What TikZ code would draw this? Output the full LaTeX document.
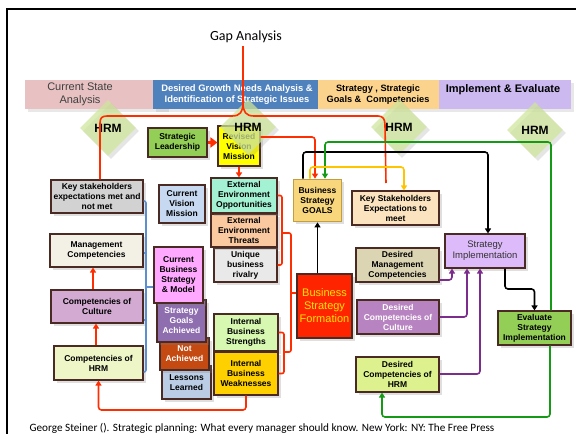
\documentclass[tikz,border=0pt]{standalone}
\usepackage{fontspec}
\setmainfont{Liberation Sans}
\newfontfamily\calibri{Carlito}
\usetikzlibrary{shapes.geometric,arrows.meta,shadows}

\definecolor{boxline}{HTML}{4A2A22}
\definecolor{pinkban}{HTML}{E8C2C2}
\definecolor{blueban}{HTML}{4F81BD}
\definecolor{orangeban}{HTML}{FCD38C}
\definecolor{purpleban}{HTML}{CBB9F0}
\definecolor{hrmgreen}{HTML}{CFE69A}
\definecolor{redln}{HTML}{FF2E00}
\definecolor{greenln}{HTML}{149A14}
\definecolor{yellowln}{HTML}{FFC400}
\definecolor{purpleln}{HTML}{7B2C8C}
\definecolor{blueln}{HTML}{5C8FD0}
\definecolor{cgray}{HTML}{D2D2D2}
\definecolor{cwhite}{HTML}{F3F1E6}
\definecolor{cmauve}{HTML}{D3AAD2}
\definecolor{clime}{HTML}{EEF6C8}
\definecolor{cgreen}{HTML}{93CF57}
\definecolor{cyellow}{HTML}{FFFF00}
\definecolor{cblue}{HTML}{C6D9F0}
\definecolor{cpink}{HTML}{FFA8FF}
\definecolor{cviolet}{HTML}{8F6EB0}
\definecolor{crust}{HTML}{C44A12}
\definecolor{clblue}{HTML}{BACDE4}
\definecolor{cmint}{HTML}{A4F2D4}
\definecolor{cpeach}{HTML}{FAC9A0}
\definecolor{clgray}{HTML}{E9E9E9}
\definecolor{clgreen}{HTML}{D6F8B0}
\definecolor{cgold}{HTML}{FFD000}
\definecolor{cred}{HTML}{FF2400}
\definecolor{ctxtyellow}{HTML}{FFE600}
\definecolor{cgoals}{HTML}{F8D67C}
\definecolor{cgoalsline}{HTML}{C49E3E}
\definecolor{ctan}{HTML}{FAE3BE}
\definecolor{ckhaki}{HTML}{DCD5B4}
\definecolor{cdviolet}{HTML}{B783C0}
\definecolor{cyg}{HTML}{DDF28E}
\definecolor{clav}{HTML}{DDBAFA}

\pgfdeclarelayer{behind}
\pgfsetlayers{behind,main}

\begin{document}
\begin{tikzpicture}[x=1pt,y=-1pt,
  bx/.style={draw=boxline, line width=1.1pt, align=center, inner sep=0pt,
    font=\bfseries\fontsize{8.5}{10}\selectfont,
    drop shadow={shadow xshift=2.5pt,shadow yshift=-2.5pt,opacity=0.25}},
  banner/.style={inner sep=0pt, draw=none,
    drop shadow={shadow xshift=3pt,shadow yshift=-3pt,opacity=0.18}},
  hrmd/.style={diamond, aspect=1, inner sep=0pt, minimum width=56pt, minimum height=56pt,
    fill=hrmgreen, fill opacity=0.72, text opacity=1, draw=none,
    font=\bfseries\fontsize{12}{12}\selectfont,
    drop shadow={shadow xshift=3pt,shadow yshift=-3pt,opacity=0.2}},
  ln/.style={line width=1.6pt, rounded corners=3pt},
  tip/.style={-{Triangle[width=6pt,length=5pt]}},
]
\useasboundingbox (0,0) rectangle (576,434);
\fill[white] (0,0) rectangle (576,434);

% frame
\draw[line width=2pt] (7,440) -- (7,9) -- (580,9);

% phase banners
\node[banner, fill=pinkban, minimum width=141pt, minimum height=29pt] (bpink) at (95.5,94.5) {};
\node[banner, fill=blueban, minimum width=165pt, minimum height=29pt] (bblue) at (235.5,94.5) {};
\node[banner, fill=orangeban, minimum width=121pt, minimum height=29pt] (borange) at (378.5,94.5) {};
\node[banner, fill=purpleban, minimum width=132pt, minimum height=29pt] (bpurple) at (505,94.5) {};
\node[align=center, text=black!75, font=\fontsize{11}{13}\selectfont] (tpink) at (80,94.5) {Current State\\Analysis};
\node[align=center, text=white, font=\bfseries\fontsize{9.4}{11}\selectfont] (tblue) at (237,95) {Desired Growth Needs Analysis \&\\Identification of Strategic Issues};
\node[align=center, text=black, font=\bfseries\fontsize{9.2}{11}\selectfont] (torange) at (378,95) {Strategy , Strategic\\Goals \&\ \ Competencies};
\node[text=black, font=\bfseries\fontsize{11}{12}\selectfont] (tpurple) at (503,90) {Implement \& Evaluate};

% left column
\node[bx, fill=cgray, minimum width=92pt, minimum height=33pt] (keymet) at (97,196.5) {Key stakeholders\\expectations met and\\not met};
\node[bx, fill=cwhite, minimum width=93pt, minimum height=33pt] (mgmt) at (96.5,250.5) {Management\\Competencies};
\node[bx, fill=cmauve, minimum width=92pt, minimum height=33pt] (cult) at (97,306.5) {Competencies of\\Culture};
\node[bx, fill=clime, minimum width=89pt, minimum height=34pt] (hrm) at (98.5,363) {Competencies of\\HRM};

% current state column
\node[bx, fill=cgreen, minimum width=59pt, minimum height=29pt] (sl) at (177.5,142.5) {Strategic\\Leadership};
\node[bx, fill=cyellow, minimum width=42pt, minimum height=40pt] (rv) at (239,146) {Revised\\Vision\\Mission};
\node[bx, fill=cblue, minimum width=46pt, minimum height=38pt] (cvm) at (182,204) {Current\\Vision\\Mission};
\node[bx, fill=clblue, minimum width=49pt, minimum height=33pt] (ll) at (186.5,382.5) {Lessons\\Learned};
\node[bx, fill=crust, text=white, minimum width=49pt, minimum height=32pt] (na) at (184.5,354) {Not\\Achieved};
\node[bx, fill=cviolet, text=white, minimum width=49pt, minimum height=42pt] (sga) at (181.5,321) {Strategy\\Goals\\Achieved};
\node[bx, fill=cpink, minimum width=49pt, minimum height=56pt] (cbs) at (178.5,275) {Current\\Business\\Strategy\\\& Model};

% environment scan
\node[bx, fill=clgray, minimum width=63pt, minimum height=34pt] (ubr) at (245.5,265) {Unique\\business\\rivalry};
\node[bx, fill=cpeach, minimum width=66pt, minimum height=33pt] (eet) at (244,230.5) {External\\Environment\\Threats};
\node[bx, fill=cmint, minimum width=66pt, minimum height=35pt] (eeo) at (244,195.5) {External\\Environment\\Opportunities};
\node[bx, fill=clgreen, minimum width=64pt, minimum height=37pt] (ibs) at (246,332.5) {Internal\\Business\\Strengths};
\node[bx, fill=cgold, minimum width=64pt, minimum height=43pt] (ibw) at (246,373.5) {Internal\\Business\\Weaknesses};

% strategy formation
\node[bx, fill=cred, text=ctxtyellow, font=\fontsize{11}{13}\selectfont, minimum width=55pt, minimum height=64pt] (bsf) at (324.5,306) {Business\\Strategy\\Formation};
\node[bx, fill=cgoals, draw=cgoalsline, line width=1.8pt, minimum width=48pt, minimum height=42pt] (goals) at (317.5,200.5) {Business\\Strategy\\GOALS};

% desired state column
\node[bx, fill=ctan, minimum width=87pt, minimum height=34pt] (kse) at (395.5,208) {Key Stakeholders\\Expectations to\\meet};
\node[bx, fill=ckhaki, minimum width=83pt, minimum height=34pt] (dmc) at (397.5,265) {Desired\\Management\\Competencies};
\node[bx, fill=cdviolet, text=white, minimum width=82pt, minimum height=34pt] (dcc) at (398,317) {Desired\\Competencies of\\Culture};
\node[bx, fill=cyg, minimum width=83pt, minimum height=35pt] (dch) at (397.5,374.5) {Desired\\Competencies of\\HRM};

% implementation
\node[bx, fill=clav, text=black!80, font=\fontsize{9.5}{11}\selectfont, minimum width=80pt, minimum height=34pt] (si) at (485,251) {Strategy\\Implementation};
\node[bx, fill=cgreen, minimum width=73pt, minimum height=34pt] (esi) at (534.5,328) {Evaluate\\Strategy\\Implementation};

% HRM markers
\node[hrmd] (hrm1) at (108,128) {HRM};
\node[hrmd] (hrm2) at (248,127) {HRM};
\node[hrmd] (hrm3) at (399,127) {HRM};
\node[hrmd] (hrm4) at (535,130) {HRM};

% helper coordinates
\coordinate (xb) at (169,0);
\coordinate (xr) at (187,0);
\coordinate (xg) at (380,0);
\coordinate (xy) at (405,0);
\coordinate (xa) at (93,0);
\coordinate (xa2) at (96,0);

% lines running behind boxes
\begin{pgfonlayer}{behind}
\draw[ln, tip] (sl.south -| xb) -- (cbs.north -| xb);
\draw[ln, tip, redln] (cbs.north -| xr) -- (sl.south -| xr);
\draw[ln, tip, greenln] (dch.north -| xg) -- (dmc.south -| xg);
\draw[ln, tip, yellowln] (kse.south -| xy) -- (dch.north -| xy);
\end{pgfonlayer}

% red connectors
\draw[line width=2.6pt, redln, -{Triangle[width=10pt,length=7pt]}] (sl.east) -- (sl.east -| rv.west);
\draw[ln, tip, redln] (rv.south) -- (rv.south |- eeo.north);
\coordinate (r1) at (315,137);
\draw[ln, tip, redln] (rv.east |- r1) -- (r1) -- (goals.north -| r1);
\draw[ln, tip, redln] (cult.north -| xa) -- (mgmt.south -| xa);
\draw[ln, tip, redln] (hrm.north -| xa2) -- (cult.south -| xa2);
\coordinate (y410) at (0,410);
\draw[ln, tip, redln] (ibw.south) -- (ibw.south |- y410) -| (hrm.south);

% external / internal brackets into formation
\coordinate (bA) at (282,233);
\coordinate (bB) at (284,352);
\coordinate (bM) at (291,293);
\draw[ln, redln, rounded corners=2pt] (eeo.east) -| (bA) |- (ubr.east);
\draw[ln, redln, rounded corners=2pt] (ibs.east) -| (bB) |- (ibw.east);
\draw[ln, redln, rounded corners=2pt] (bA) -- (291,233) -- (291,352) -- (bB);
\draw[ln, redln] (bM) -- (bsf.west |- bM);

% gap analysis brace
\node[font=\calibri\fontsize{14}{16}\selectfont] (gap) at (246,37) {Gap Analysis};
\coordinate (gL) at (100,116);
\coordinate (gEnd) at (386,183);
\draw[line width=1.6pt, redln] (243,46) -- (243,103) .. controls (243,112) and (240,116) .. (232,116)
  -- (107,116) .. controls (102,116) and (100,118) .. (100,123) -- (keymet.north -| gL);
\draw[line width=1.6pt, redln] (243,103) .. controls (243,112) and (246,116) .. (254,116)
  -- (378,116) .. controls (383,116) and (385,119) .. (385,125) -- (gEnd);

% black connectors
\draw[ln, tip] (bsf.north -| goals.south) -- (goals.south);
\coordinate (k1) at (303,152);
\coordinate (k2) at (488,152);
\draw[ln, tip] (goals.north -| k1) -- (k1) -- (k2) -- (si.north -| k2);
\coordinate (m1) at (505,289);
\draw[ln, tip] (si.south -| m1) -- (m1) -| (esi.north);

% green connectors
\coordinate (g1) at (551,142);
\coordinate (g2) at (325,142);
\draw[ln, tip, greenln] (esi.north -| g1) -- (g1) -- (g2) -- (goals.north -| g2);
\coordinate (g3) at (550,417);
\coordinate (g4) at (382,417);
\draw[ln, tip, greenln] (esi.south -| g3) -- (g3) -- (g4) -- (dch.south -| g4);

% yellow connector
\coordinate (y1) at (310,167);
\coordinate (y2) at (404,167);
\draw[ln, tip, yellowln] (goals.north -| y1) -- (y1) -- (y2) -- (kse.north -| y2);

% purple connectors into implementation
\coordinate (p1) at (452,280);
\coordinate (p2) at (467,317);
\coordinate (p3) at (480,374);
\draw[ln, tip, purpleln] (dmc.east |- p1) -- (p1) -- (si.south -| p1);
\draw[ln, tip, purpleln] (dcc.east |- p2) -- (p2) -- (si.south -| p2);
\draw[ln, tip, purpleln] (dch.east |- p3) -- (p3) -- (si.south -| p3);

% current state brace
\coordinate (q1) at (146,201);
\coordinate (q2) at (146,372);
\coordinate (qm) at (146,287);
\draw[ln, blueln, rounded corners=2pt] (keymet.east |- q1) -- (q1) -- (q2) -- (hrm.east |- q2);
\draw[ln, blueln, rounded corners=2pt] (mgmt.east |- 0,253) -- (146,253);
\draw[ln, blueln, rounded corners=2pt] (cult.east |- 0,320) -- (146,320);
\draw[ln, blueln] (qm) -- (cbs.west |- qm);

% source
\node[anchor=west, font=\calibri\fontsize{11.2}{13}\selectfont] (src) at (26,428) {George Steiner (). Strategic planning: What every manager should know. New York: NY: The Free Press};
\end{tikzpicture}
\end{document}
